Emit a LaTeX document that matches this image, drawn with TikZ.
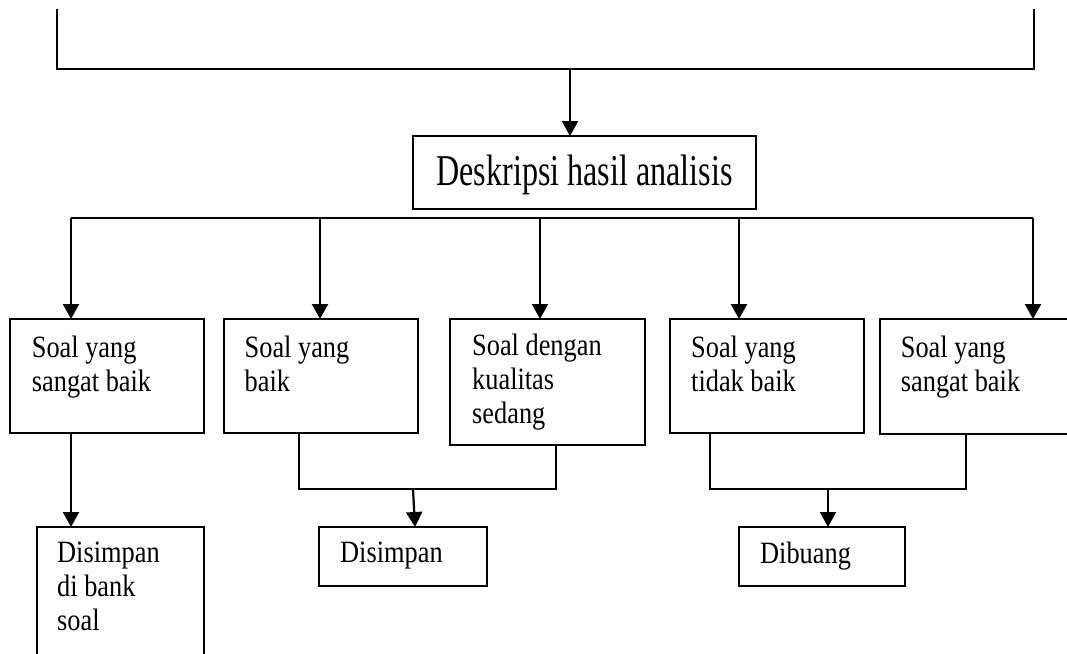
\documentclass[tikz,border=0pt]{standalone}
\usepackage{fontspec}
\setmainfont{Liberation Serif}
\newfontfamily\titlefont[FakeStretch=0.73]{Liberation Serif}
\newfontfamily\boxfont[FakeStretch=0.85]{Liberation Serif}
\usetikzlibrary{arrows.meta}
\begin{document}
\begin{tikzpicture}[x=1pt,y=-1pt,
  conn/.style={line width=2.2pt},
  arr/.style={line width=2.2pt,-{Triangle[width=16pt,length=15pt]}},
  box/.style={draw,line width=2.2pt,anchor=north west,inner sep=0pt,outer sep=0pt},
  lbl/.style={anchor=north west,inner sep=0pt,align=left,font=\boxfont\fontsize{31}{34}\selectfont},
  ttl/.style={anchor=base,inner sep=0pt,font=\titlefont\fontsize{44}{50}\selectfont}]
\useasboundingbox (0,0) rectangle (1067,653);
\clip (0,0) rectangle (1067,653);
% top bracket
\coordinate (tl) at (57,9);
\coordinate (tr) at (1034,9);
\coordinate (bl) at (57,69);
\coordinate (brr) at (1034,69);
\coordinate (tm) at (570,69);
\draw[conn] (tl) -- (bl) -- (brr) -- (tr);
% description box
\node[box,minimum width=343pt,minimum height=73pt] (d) at (413,136) {};
\node[ttl] (dt) at (584.5,185) {Deskripsi hasil analisis};
\draw[arr] (tm) -- (tm |- d.north);
% second level boxes
\node[box,minimum width=194pt,minimum height=114pt] (b1) at (10,319) {};
\node[box,minimum width=194pt,minimum height=114pt] (b2) at (224,319) {};
\node[box,minimum width=195pt,minimum height=126pt] (b3) at (450,319) {};
\node[box,minimum width=194pt,minimum height=114pt] (b4) at (670,319) {};
\node[box,minimum width=210pt,minimum height=115pt] (b5) at (880,319) {};
\node[lbl] (t1) at (31.7,335.8) {Soal yang\\sangat baik};
\node[lbl] (t2) at (244.5,335.8) {Soal yang\\baik};
\node[lbl] (t3) at (472,334) {Soal dengan\\kualitas\\sedang};
\node[lbl] (t4) at (691,335.8) {Soal yang\\tidak baik};
\node[lbl] (t5) at (900.7,335.8) {Soal yang\\sangat baik};
% branch line
\coordinate (s1) at (71,218);
\coordinate (s2) at (320,218);
\coordinate (s3) at (540,218);
\coordinate (s4) at (739,218);
\coordinate (s5) at (1033,218);
\draw[conn] (s1) -- (s5);
\draw[arr] (s1) -- (s1 |- b1.north);
\draw[arr] (s2) -- (s2 |- b2.north);
\draw[arr] (s3) -- (s3 |- b3.north);
\draw[arr] (s4) -- (s4 |- b4.north);
\draw[arr] (s5) -- (s5 |- b5.north);
% third level boxes
\node[box,minimum width=167pt,minimum height=160pt] (c1) at (37,527) {};
\node[box,minimum width=168pt,minimum height=59pt] (c2) at (319,527) {};
\node[box,minimum width=166pt,minimum height=59pt] (c3) at (739,527) {};
\node[lbl] (u1) at (57,541.8) {Disimpan\\di bank\\soal};
\node[lbl] (u2) at (340,541.8) {Disimpan};
\node[lbl] (u3) at (760,541.8) {Dibuang};
% lower connectors
\coordinate (p1) at (71,433);
\draw[arr] (p1) -- (p1 |- c1.north);
\coordinate (q1) at (299,489);
\coordinate (q2) at (556,489);
\coordinate (q3) at (413,489);
\coordinate (q4) at (415,527);
\draw[conn] (q1 |- b2.south) -- (q1) -- (q2) -- (q2 |- b3.south);
\draw[arr] (q3) -- (q4 |- c2.north);
\coordinate (r1) at (710,489);
\coordinate (r2) at (966,489);
\coordinate (r3) at (828,489);
\draw[conn] (r1 |- b4.south) -- (r1) -- (r2) -- (r2 |- b5.south);
\draw[arr] (r3) -- (r3 |- c3.north);
\end{tikzpicture}
\end{document}
